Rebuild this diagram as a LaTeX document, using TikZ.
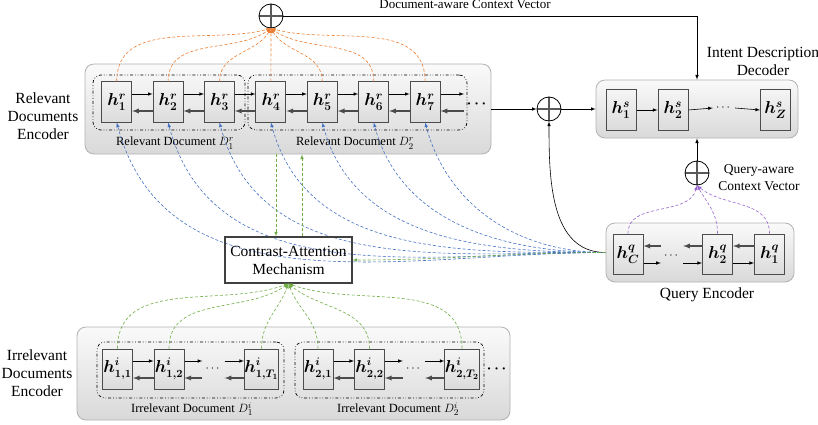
\documentclass[tikz,border=0pt]{standalone}
\usepackage{amsmath}
\usepackage{fontspec}
\setmainfont{Liberation Serif}
\definecolor{orng}{RGB}{237,125,49}
\definecolor{blu}{RGB}{68,114,196}
\definecolor{grn}{RGB}{112,173,71}
\definecolor{purp}{RGB}{153,102,204}
\begin{document}
\begin{tikzpicture}[>=latex,x=1pt,y=-1pt,
	enc/.style={draw=gray!60,line width=.8pt,rounded corners=9pt,top color=gray!4,bottom color=gray!30},
	doc/.style={draw,line width=.7pt,dash dot dot,rounded corners=8pt},
	cell/.style={draw=black!70,line width=1pt,top color=gray!8,bottom color=gray!28,minimum width=30pt,minimum height=40pt,inner sep=0pt,font=\fontsize{17}{20}\selectfont},
	fwd/.style={->,line width=.6pt},
	bwd/.style={->,gray!60!black,line width=1.3pt},
	att/.style={->,dash pattern=on 3pt off 2pt,line width=.6pt},
	oplus/.style={circle,draw,line width=.8pt,minimum size=24pt,inner sep=0pt,
		path picture={\draw[gray!70!black,line width=1.2pt] (path picture bounding box.north)--(path picture bounding box.south) (path picture bounding box.west)--(path picture bounding box.east);}},
	lbl/.style={align=center,font=\fontsize{15.5}{18}\selectfont},
	sub/.style={font=\fontsize{12.5}{14}\selectfont},
	dots/.style={inner sep=3pt,font=\fontsize{12}{14}\selectfont}]
	\useasboundingbox (0,0) rectangle (818,425);
	% relevant documents encoder
	\node[enc,minimum width=406pt,minimum height=90pt] (renc) at (288,109) {};
	\node[doc,minimum width=152pt,minimum height=55pt] (rd1) at (169,102.5) {};
	\node[doc,minimum width=219pt,minimum height=55pt] (rd2) at (357.5,102.5) {};
	\foreach \i in {1,...,7}
		\node[cell] (hr\i) at ({116.7+51.4*(\i-1)},102) {$\boldsymbol{h^{r}_{\i}}$};
	\foreach \i [count=\j from 2] in {1,...,6}{
		\draw[fwd] ([yshift=8pt]hr\i.east)--([yshift=8pt]hr\j.west);
		\draw[bwd] ([yshift=-9pt]hr\j.west)--([yshift=-9pt]hr\i.east);
	}
	\coordinate (rend) at (464,102);
	\draw[fwd] ([yshift=8pt]hr7.east)--([yshift=8pt]hr7.east-|rend);
	\draw[bwd] ([yshift=-9pt]hr7.east-|rend)--([yshift=-9pt]hr7.east);
	\node[dots,font=\fontsize{15}{17}\selectfont] (rdots) at (478,104) {$\boldsymbol{\cdots}$};
	\node[sub] (lrd1) at (175,143) {Relevant Document $D_1^r$};
	\node[sub] (lrd2) at (355,143) {Relevant Document $D_2^r$};
	\node[lbl] (lrenc) at (43,116) {Relevant\\Documents\\Encoder};
	% document-aware context vector
	\node[oplus] (ctop) at (271,16) {};
	\foreach \i/\a in {1/195,2/215,3/240,5/300,6/325,7/345}
		\draw[att,orng] (hr\i.north) to[out=90,in=\a] (ctop.south);
	\draw[att,orng] (hr4.north)--(ctop.south);
	% intent description decoder
	\node[enc,minimum width=202pt,minimum height=58pt] (dec) at (697,109) {};
	\node[cell] (hs1) at (621,110) {$\boldsymbol{h^{s}_{1}}$};
	\node[cell] (hs2) at (673,110) {$\boldsymbol{h^{s}_{2}}$};
	\node[cell] (hsZ) at (775.5,110) {$\boldsymbol{h^{s}_{Z}}$};
	\node[dots] (ddots) at (724,108) {$\cdots$};
	\draw[fwd] (hs1.east)--(hs2.west);
	\draw[fwd] (hs2.east)--(ddots.west);
	\draw[fwd] (ddots.east)--(hsZ.west);
	\node[lbl] (ldec) at (763,61) {Intent Description\\Decoder};
	\draw[fwd] (ctop.east)-|(dec.north);
	\node[anchor=base,font=\fontsize{13}{15}\selectfont] (lctop) at (465,9) {Document-aware Context Vector};
	\node[oplus] (cmid) at (549,109) {};
	\draw[fwd] (renc.east)--(cmid.west);
	\draw[fwd] (cmid.east)--(dec.west);
	% query encoder
	\node[oplus] (cq) at (697,173) {};
	\draw[fwd] (cq.north)--(dec.south);
	\node[lbl,font=\fontsize{13.5}{17}\selectfont] (lcq) at (759,178) {Query-aware\\Context Vector};
	\node[enc,minimum width=188pt,minimum height=59pt] (qenc) at (700,252.5) {};
	\node[cell] (hqC) at (628,254) {$\boldsymbol{h^{q}_{C}}$};
	\node[cell] (hq2) at (717.5,254) {$\boldsymbol{h^{q}_{2}}$};
	\node[cell] (hq1) at (769.5,254) {$\boldsymbol{h^{q}_{1}}$};
	\node[dots] (qdots) at (672,256) {$\cdots$};
	\draw[bwd] ([yshift=8pt]hqC.east-|qdots.west)--([yshift=8pt]hqC.east);
	\draw[bwd] ([yshift=8pt]hq2.west)--([yshift=8pt]hq2.west-|qdots.east);
	\draw[bwd] ([yshift=8pt]hq1.west)--([yshift=8pt]hq2.east);
	\draw[fwd] ([yshift=-9pt]hqC.east)--([yshift=-9pt]hqC.east-|qdots.west);
	\draw[fwd] ([yshift=-9pt]hq2.west-|qdots.east)--([yshift=-9pt]hq2.west);
	\draw[fwd] ([yshift=-9pt]hq2.east)--([yshift=-9pt]hq1.west);
	\node[lbl] (lqenc) at (707,295) {Query Encoder};
	\draw[att,purp] (hqC.north) to[out=90,in=255] (cq.south);
	\draw[att,purp] (hq2.north) to[out=90,in=-60] (cq.south);
	\draw[att,purp] (hq1.north) to[out=90,in=-40] (cq.south);
	\draw[fwd] (qenc.west) to[out=180,in=-90] (cmid.south);
	\foreach \i in {1,...,7}
		\draw[att,blu] (qenc.west) to[out=180,in=-75] (hr\i.south);
	% contrast-attention mechanism
	\node[draw=black!75,line width=1.2pt,lbl,minimum width=127pt,minimum height=46pt,inner sep=2pt] (cam) at (288.5,260) {Contrast-Attention\\Mechanism};
	\draw[att,grn] (qenc.west) to[out=180,in=0] (cam.east);
	\draw[att,grn] ([xshift=-12.5pt]cam.north|-renc.south)--([xshift=-12.5pt]cam.north);
	\draw[att,grn] ([xshift=13.5pt]cam.north)--([xshift=13.5pt]cam.north|-renc.south);
	% irrelevant documents encoder
	\node[enc,minimum width=433pt,minimum height=93pt] (ienc) at (293.5,373.5) {};
	\node[doc,minimum width=187pt,minimum height=56pt] (id1) at (190.5,370) {};
	\node[doc,minimum width=189pt,minimum height=56pt] (id2) at (389.5,370) {};
	\foreach \d/\x in {1/117.5,2/318}{
		\node[cell,font=\fontsize{16}{19}\selectfont] (hi\d1) at (\x,369) {$\boldsymbol{h^{i}_{\d,1}}$};
		\node[cell,font=\fontsize{16}{19}\selectfont] (hi\d2) at (\x+51.5,369) {$\boldsymbol{h^{i}_{\d,2}}$};
		\node[cell,font=\fontsize{16}{19}\selectfont] (hi\d T) at (\x+144,369) {$\boldsymbol{h^{i}_{\d,T_{\d}}}$};
		\node[dots] (idt\d) at (\x+96,369) {$\cdots$};
		\draw[fwd] ([yshift=8pt]hi\d1.east)--([yshift=8pt]hi\d2.west);
		\draw[fwd] ([yshift=8pt]hi\d2.east)--([yshift=8pt]hi\d2.east-|idt\d.west);
		\draw[fwd] ([yshift=8pt]hi\d T.west-|idt\d.east)--([yshift=8pt]hi\d T.west);
		\draw[bwd] ([yshift=-9pt]hi\d2.west)--([yshift=-9pt]hi\d1.east);
		\draw[bwd] ([yshift=-9pt]hi\d2.east-|idt\d.west)--([yshift=-9pt]hi\d2.east);
		\draw[bwd] ([yshift=-9pt]hi\d T.west)--([yshift=-9pt]hi\d T.west-|idt\d.east);
	}
	\node[dots,font=\fontsize{15}{17}\selectfont] (idots) at (498,369) {$\boldsymbol{\cdots}$};
	\foreach \c/\a in {11/200,12/215,1T/250,21/290,22/320,2T/340}
		\draw[att,grn] (hi\c.north) to[out=90,in=\a] (cam.south);
	\node[sub] (lid1) at (192,409) {Irrelevant Document $D_1^i$};
	\node[sub] (lid2) at (398,409) {Irrelevant Document $D_2^i$};
	\node[lbl] (lienc) at (37,373) {Irrelevant\\Documents\\Encoder};
\end{tikzpicture}
\end{document}
